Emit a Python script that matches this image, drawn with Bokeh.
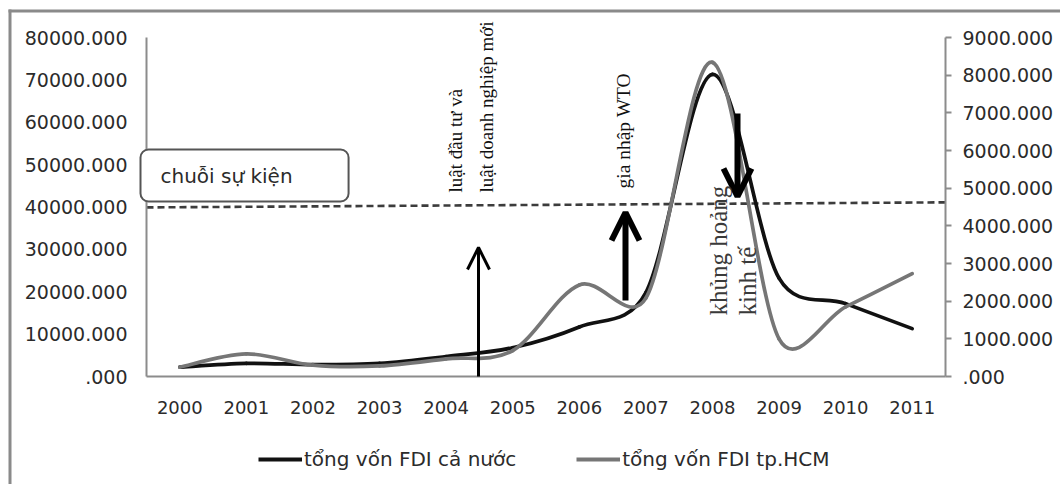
import math
import numpy as np
from bokeh.plotting import figure
from bokeh.models import (Range1d, LinearAxis, FixedTicker, Legend, LegendItem,
                          Arrow, OpenHead, Label, BoxAnnotation)
from bokeh.embed import file_html
from bokeh.resources import INLINE

# ---------------- data ----------------
years = ["2000", "2001", "2002", "2003", "2004", "2005",
         "2006", "2007", "2008", "2009", "2010", "2011"]
fdi_vn = [2200, 3100, 2800, 3100, 4700, 6800, 11700, 19800, 71300, 23200, 17200, 11300]
fdi_hcm = [250, 600, 300, 280, 470, 690, 2430, 2080, 8340, 1000, 1850, 2730]
series_names = ["tổng vốn FDI cả nước", "tổng vốn FDI tp.HCM"]

left_ticks = [0, 10000, 20000, 30000, 40000, 50000, 60000, 70000, 80000]
left_tick_labels = [".000", "10000.000", "20000.000", "30000.000", "40000.000",
                    "50000.000", "60000.000", "70000.000", "80000.000"]
right_ticks = [0, 1000, 2000, 3000, 4000, 5000, 6000, 7000, 8000, 9000]
right_tick_labels = [".000", "1000.000", "2000.000", "3000.000", "4000.000",
                     "5000.000", "6000.000", "7000.000", "8000.000", "9000.000"]

# dashed "event line" (left-axis units at its two ends)
event_line = [39900, 41100]

box_text = "chuỗi sự kiện"
event_texts = [["luật đầu tư và", "luật doanh nghiệp mới"], ["gia nhập WTO"],
               ["khủng hoảng", "kinh tế"]]

# ---------------- layout constants (pixels) ----------------
W, H = 1060, 484
AL, AR, AT, AB = 146, 945, 37, 376          # plot-area box of the axes
N = len(years)
LEFT_MAX, RIGHT_MAX = 80000, 9000
KX = (AR - AL) / N                          # px per category
KYL = (AB - AT) / LEFT_MAX                  # px per left unit
KYR = (AB - AT) / RIGHT_MAX                 # px per right unit
SERIF = "Liberation Serif"
SANS = "DejaVu Sans"


def dx(px):
    return (px - AL) / KX


def dyl(py):
    return (AB - py) / KYL


p = figure(width=W, height=H, output_backend="svg", toolbar_location=None,
           x_range=Range1d(dx(0), dx(W)), y_range=Range1d(dyl(H), dyl(0)),
           x_axis_location=None, y_axis_location=None,
           min_border=0, background_fill_color="white", border_fill_color="white")
p.extra_y_ranges = {"right": Range1d(-(H - AB) / KYR, AB / KYR)}
p.outline_line_color = None
p.xgrid.visible = False
p.ygrid.visible = False

AX_COL = "#8c8c8c"
LBL_COL = "#2b2b2b"

xpos = [i + 0.5 for i in range(N)]

xa = LinearAxis(ticker=FixedTicker(ticks=xpos), fixed_location=0, bounds=(0, N))
xa.major_label_overrides = {x: y for x, y in zip(xpos, years)}
xa.axis_line_color = AX_COL
xa.axis_line_width = 2
xa.major_tick_line_color = None
xa.minor_tick_line_color = None
xa.major_label_standoff = 18
xa.major_label_text_font = SANS
xa.major_label_text_font_size = "18px"
xa.major_label_text_color = LBL_COL
p.add_layout(xa, "below")

ya = LinearAxis(ticker=FixedTicker(ticks=left_ticks), fixed_location=0,
                bounds=(0, LEFT_MAX))
ya.major_label_overrides = {t: l for t, l in zip(left_ticks, left_tick_labels)}
ya.axis_line_color = AX_COL
ya.axis_line_width = 2
ya.major_tick_line_color = None
ya.minor_tick_line_color = None
ya.major_label_standoff = 13
ya.major_label_text_font = SANS
ya.major_label_text_font_size = "19px"
ya.major_label_text_color = LBL_COL
p.add_layout(ya, "left")

ra = LinearAxis(y_range_name="right", ticker=FixedTicker(ticks=right_ticks),
                fixed_location=N, bounds=(0, RIGHT_MAX))
ra.major_label_overrides = {t: l for t, l in zip(right_ticks, right_tick_labels)}
ra.axis_line_color = AX_COL
ra.axis_line_width = 2
ra.major_tick_line_color = AX_COL
ra.major_tick_line_width = 2
ra.major_tick_in = 0
ra.major_tick_out = 6
ra.minor_tick_line_color = None
ra.major_label_standoff = 11
ra.major_label_text_font = SANS
ra.major_label_text_font_size = "19px"
ra.major_label_text_color = LBL_COL
p.add_layout(ra, "right")


# ---------------- smooth curves (spreadsheet-style Bezier smoothing) ----------
def smooth(ys, ky):
    X = np.array(xpos) * KX
    Y = np.asarray(ys, float) * ky
    n = len(X)
    d = [math.hypot(X[i + 1] - X[i], Y[i + 1] - Y[i]) for i in range(n - 1)]
    T = []
    for i in range(n):
        a, b = max(i - 1, 0), min(i + 1, n - 1)
        T.append(((X[b] - X[a]) / 6.0, (Y[b] - Y[a]) / 6.0))

    def clamp(v, lim):
        L = math.hypot(*v)
        return v if L <= lim else (v[0] * lim / L, v[1] * lim / L)

    cx0, cy0, cx1, cy1 = [], [], [], []
    for i in range(n - 1):
        o0 = clamp(T[i], d[i] / 2)
        o1 = clamp(T[i + 1], d[i] / 2)
        cx0.append((X[i] + o0[0]) / KX)
        cy0.append((Y[i] + o0[1]) / ky)
        cx1.append((X[i + 1] - o1[0]) / KX)
        cy1.append((Y[i + 1] - o1[1]) / ky)
    return dict(x0=xpos[:-1], y0=list(ys[:-1]), x1=xpos[1:], y1=list(ys[1:]),
                cx0=cx0, cy0=cy0, cx1=cx1, cy1=cy1)


BLACK = "#111111"
GRAY = "#767676"
LW = 3.7

# dashed event line across the plot area, from the left axis to the right axis
p.segment(x0=[0], y0=[event_line[0]], x1=[N], y1=[event_line[1]],
          line_color="#3c3c3c", line_width=2.6, line_dash="7 4")

p.bezier(line_color=BLACK, line_width=LW, line_cap="round", **smooth(fdi_vn, KYL))
p.bezier(line_color=GRAY, line_width=LW, line_cap="round", y_range_name="right",
         **smooth(fdi_hcm, KYR))

# legend proxies: a one-point line draws nothing in the plot, only the key
r_vn = p.line(x=xpos[:1], y=fdi_vn[:1], line_color=BLACK, line_width=4)
r_hcm = p.line(x=xpos[:1], y=fdi_hcm[:1], line_color=GRAY, line_width=4,
               y_range_name="right")
legend = Legend(items=[LegendItem(label=series_names[0], renderers=[r_vn]),
                       LegendItem(label=series_names[1], renderers=[r_hcm])],
                orientation="horizontal", location=(258, 13),
                label_text_font=SANS, label_text_font_size="20px",
                label_text_color=LBL_COL, glyph_width=44, glyph_height=20,
                label_standoff=2, spacing=60, padding=0, margin=0,
                border_line_color=None, background_fill_alpha=0)
p.add_layout(legend)

# ---------------- annotations ----------------
p.add_layout(Label(x=dx(140), y=dyl(175), text=box_text, text_font=SANS,
                   text_font_size="20px", text_color=LBL_COL,
                   text_baseline="middle", text_align="left",
                   border_line_color="#555555", border_line_width=2,
                   background_fill_color="white", border_radius=8,
                   padding=dict(left=20, right=56, top=14, bottom=14)))

p.add_layout(Arrow(x_start=dx(478), y_start=0, x_end=dx(478), y_end=dyl(247),
                   line_width=3, line_color="black",
                   end=OpenHead(size=22, line_width=3, line_color="black")))
p.add_layout(Arrow(x_start=dx(625), y_start=dyl(300), x_end=dx(625), y_end=dyl(212),
                   line_width=6, line_color="black",
                   end=OpenHead(size=28, line_width=6, line_color="black")))
p.add_layout(Arrow(x_start=dx(737), y_start=dyl(113), x_end=dx(737), y_end=dyl(196),
                   line_width=6, line_color="black",
                   end=OpenHead(size=28, line_width=6, line_color="black")))

label_specs = [
    (455, 192, event_texts[0][0], "19px", "#111111"),
    (486, 192, event_texts[0][1], "19px", "#111111"),
    (623, 188, event_texts[1][0], "19.5px", "#111111"),
    (718, 315, event_texts[2][0], "25px", "#3a3a3a"),
    (747, 315, event_texts[2][1], "25px", "#3a3a3a"),
]
for px, py, t, fs, c in label_specs:
    p.add_layout(Label(x=dx(px), y=dyl(py), text=t, angle=math.pi / 2,
                       text_font=SERIF, text_font_size=fs, text_color=c,
                       text_align="left", text_baseline="middle"))

# outer frame of the picture (its right and bottom sides lie beyond the picture)
FRAME_COL = "#8a8a8a"
p.add_layout(BoxAnnotation(left=dx(8), right=dx(W + 50), top=dyl(9), bottom=dyl(12),
                           fill_color=FRAME_COL, fill_alpha=1, line_color=None))
p.add_layout(BoxAnnotation(left=dx(8), right=dx(11), top=dyl(9), bottom=dyl(H + 50),
                           fill_color=FRAME_COL, fill_alpha=1, line_color=None))

open("out.html", "w").write(file_html(p, INLINE))
